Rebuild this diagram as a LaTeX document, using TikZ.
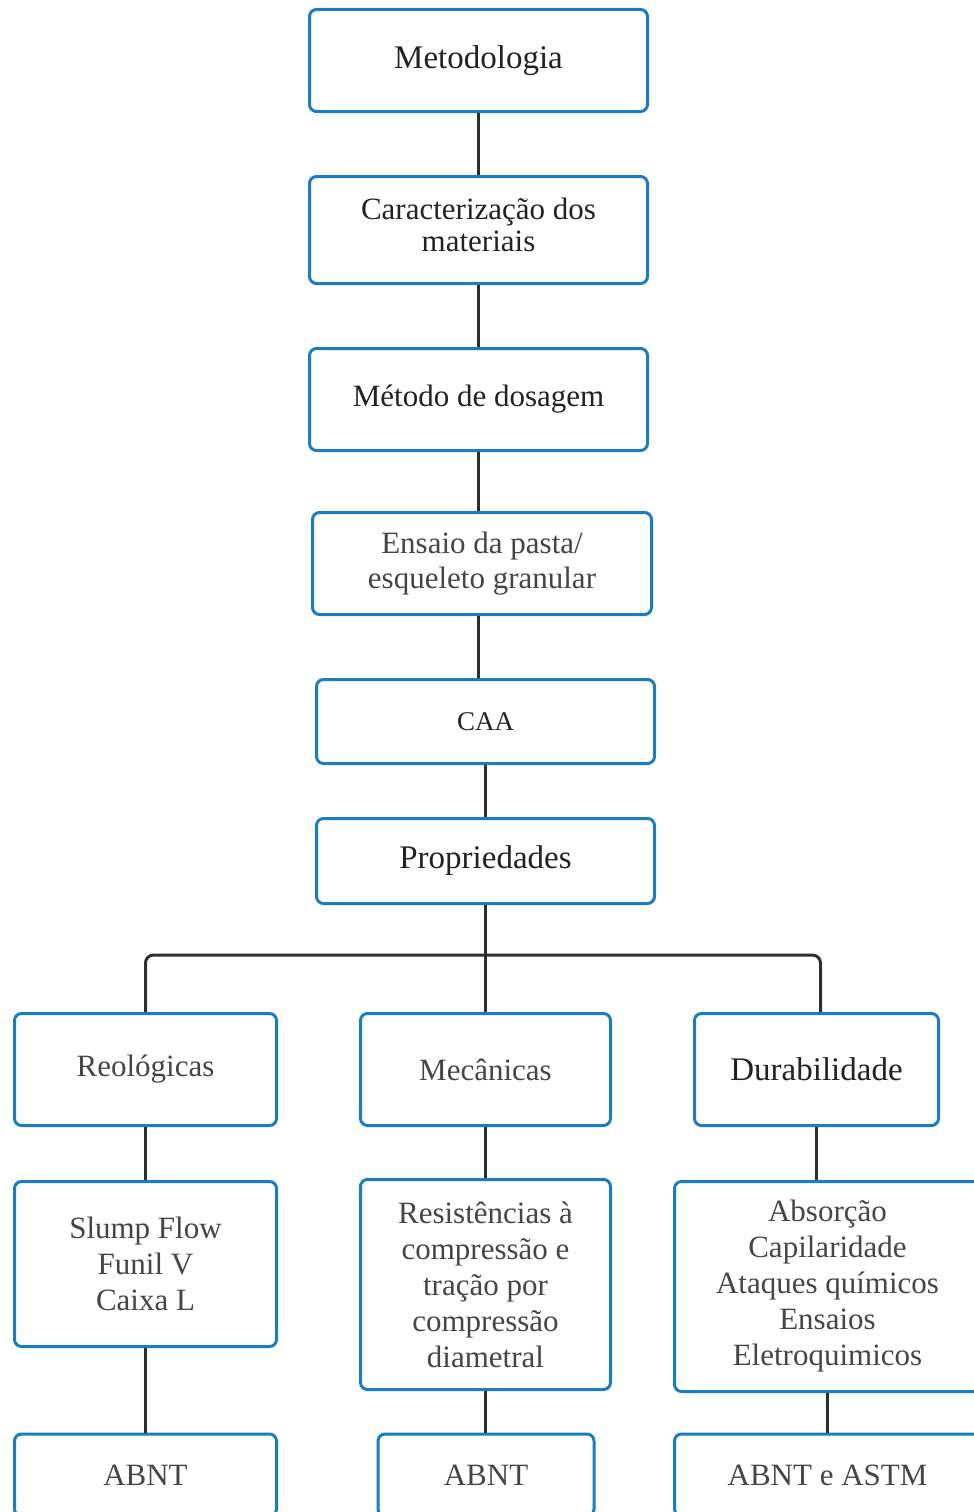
\documentclass[tikz,border=0pt]{standalone}
\usepackage{fontspec}
\setmainfont{Liberation Serif}
\begin{document}
\begin{tikzpicture}[x=1pt,y=-1pt,
  box/.style={draw=boxblue, line width=3pt, rounded corners=7pt, fill=white,
    align=center, inner sep=0pt, text=txt, font=\fontsize{31}{36}\selectfont},
  dark/.style={text=txtdark},
  big/.style={text=txtdark, font=\fontsize{33}{36}\selectfont},
  link/.style={draw=linkgray, line width=3pt},
]
\definecolor{boxblue}{HTML}{1A7DC0}
\definecolor{linkgray}{HTML}{2E2E2E}
\definecolor{txt}{HTML}{454545}
\definecolor{txtdark}{HTML}{222222}
\useasboundingbox (0,0) rectangle (974,1512);
\clip (0,0) rectangle (974,1512);

% main chain
\node[box, big, minimum width=338pt, minimum height=102pt] (met) at (478.5,60.5) {Metodologia};
\node[box, dark, minimum width=338pt, minimum height=107pt] (car) at (478.5,230) {Caracterização dos\\[-4pt]materiais\\[-26pt]};
\node[box, dark, minimum width=338pt, minimum height=102pt] (dos) at (478.5,399.5) {Método de dosagem};
\node[box, minimum width=339pt, minimum height=102pt] (pas) at (482,563.5) {Ensaio da pasta/\\[-1pt]esqueleto granular};
\node[box, dark, font=\fontsize{27}{36}\selectfont, minimum width=338pt, minimum height=84pt] (caa) at (485.5,721.5) {CAA};
\node[box, big, minimum width=338pt, minimum height=85pt] (pro) at (485.5,861) {Propriedades};

% property groups
\node[box, minimum width=262pt, minimum height=112pt] (reo) at (145.5,1069.5) {Reológicas};
\node[box, minimum width=250pt, minimum height=112pt] (mec) at (485.5,1069.5) {Mecânicas};
\node[box, big, minimum width=244pt, minimum height=112pt] (dur) at (816.5,1069.5) {Durabilidade};

% tests
\node[box, minimum width=262pt, minimum height=165pt] (slu) at (145.5,1264) {Slump Flow\\Funil V\\Caixa L};
\node[box, minimum width=250pt, minimum height=210pt] (res) at (485.5,1284.5) {Resistências à\\compressão e\\tração por\\compressão\\diametral};
\node[box, minimum width=306pt, minimum height=210pt] (abs) at (827.5,1286.5) {Absorção\\Capilaridade\\Ataques químicos\\Ensaios\\Eletroquimicos};

% standards
\node[box, minimum width=262pt, minimum height=82pt] (n1) at (145.5,1475) {ABNT};
\node[box, minimum width=216pt, minimum height=82pt] (n2) at (486,1475) {ABNT};
\node[box, minimum width=306pt, minimum height=82pt] (n3) at (827.5,1475) {ABNT e ASTM};

% connectors
\coordinate (bus) at (485.5,955);
\draw[link] (met.south) -- (car.north);
\draw[link] (car.south) -- (dos.north);
\draw[link] (dos.south) -- (dos.south |- pas.north);
\draw[link] (pas.south -| dos.south) -- (dos.south |- caa.north);
\draw[link] (caa.south) -- (pro.north);
\draw[link] (pro.south) -- (mec.north);
\draw[link, rounded corners=8pt] (reo.north) -- (reo.north |- bus) -- ([xshift=4pt]dur.north |- bus) -- ([xshift=4pt]dur.north);
\draw[link] (reo.south) -- (slu.north);
\draw[link] (mec.south) -- (res.north);
\draw[link] (dur.south) -- (dur.south |- abs.north);
\draw[link] (slu.south) -- (n1.north);
\draw[link] (res.south) -- (res.south |- n2.north);
\draw[link] (abs.south) -- (n3.north);
\end{tikzpicture}
\end{document}
